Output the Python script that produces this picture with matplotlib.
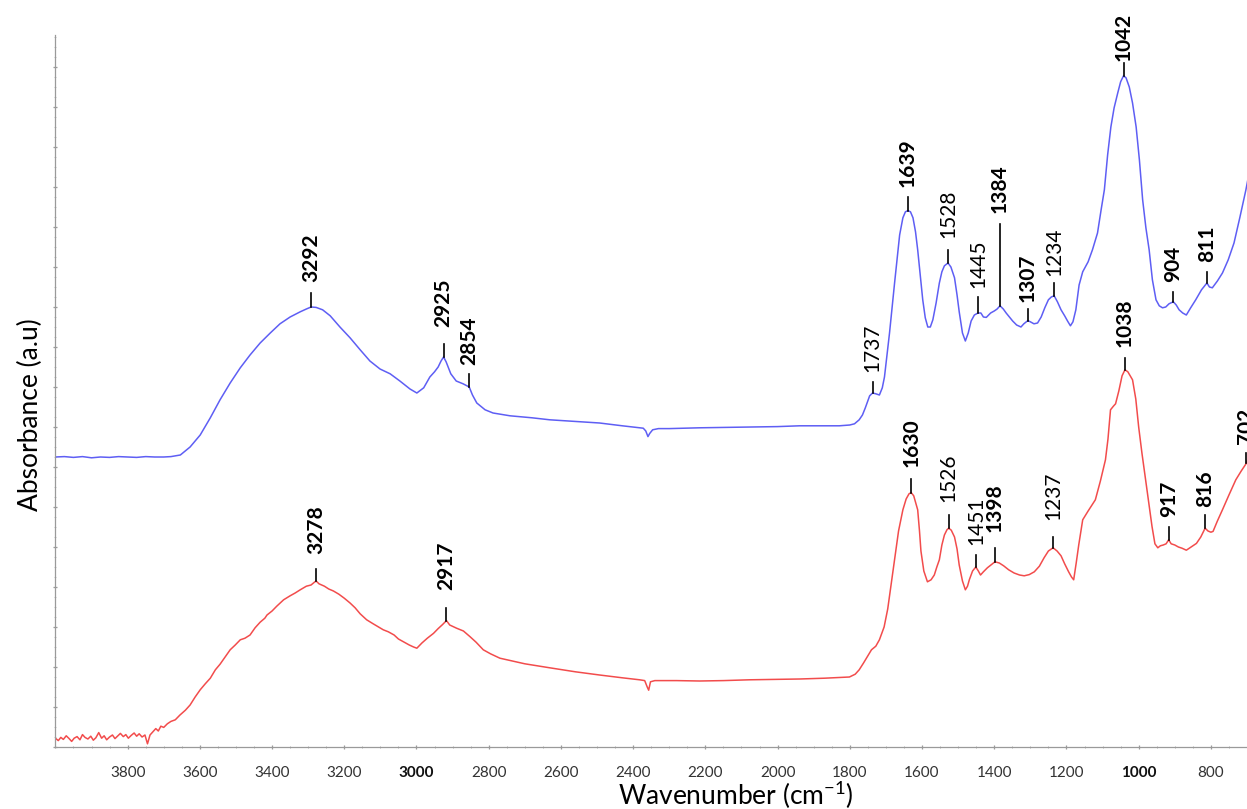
import numpy as np
import matplotlib
matplotlib.use("Agg")
import matplotlib.pyplot as plt
from matplotlib.ticker import MultipleLocator

plt.rcParams['font.family'] = ['Lato', 'DejaVu Sans']
plt.rcParams['mathtext.default'] = 'regular'

# ---- spectrum 1 (upper trace) ----
wn_upper = [4000, 3975, 3950, 3925, 3900, 3875, 3850, 3825, 3800, 3775, 3750, 3725,
            3700, 3680, 3654, 3627, 3599, 3571, 3544, 3516, 3488, 3461, 3433, 3405,
            3378, 3350, 3322, 3305, 3292, 3278, 3260, 3239, 3212, 3184, 3156, 3129,
            3101, 3073, 3046, 3018, 2999, 2980, 2963, 2950, 2940, 2932, 2925, 2918,
            2905, 2890, 2871, 2854, 2845, 2833, 2810, 2788, 2741, 2680, 2631, 2560,
            2493, 2430, 2382, 2372, 2365, 2359, 2354, 2346, 2330, 2300, 2216, 2150,
            2078, 2000, 1939, 1880, 1829, 1800, 1787, 1774, 1765, 1757, 1745, 1737,
            1728, 1718, 1710, 1704, 1697, 1690, 1676, 1662, 1653, 1646, 1639, 1632,
            1625, 1618, 1612, 1605, 1598, 1591, 1584, 1577, 1570, 1561, 1552, 1545,
            1538, 1528, 1520, 1510, 1503, 1497, 1488, 1480, 1472, 1464, 1455, 1445,
            1437, 1430, 1422, 1410, 1400, 1392, 1384, 1375, 1367, 1358, 1349, 1338,
            1326, 1318, 1307, 1300, 1290, 1280, 1270, 1260, 1250, 1242, 1234, 1225,
            1215, 1205, 1197, 1189, 1182, 1174, 1165, 1155, 1140, 1128, 1114, 1104,
            1095, 1086, 1077, 1068, 1058, 1050, 1042, 1035, 1026, 1017, 1007, 998,
            989, 980, 971, 962, 952, 943, 934, 925, 916, 904, 896, 888,
            878, 868, 856, 842, 826, 811, 804, 796, 782, 768, 752, 736,
            720, 703, 690]
abs_upper = [0.725, 0.726, 0.724, 0.726, 0.723, 0.725, 0.724, 0.726, 0.725, 0.724, 0.726, 0.725,
             0.725, 0.726, 0.730, 0.750, 0.780, 0.823, 0.868, 0.910, 0.948, 0.980, 1.010, 1.035,
             1.058, 1.075, 1.088, 1.095, 1.100, 1.099, 1.093, 1.078, 1.050, 1.023, 0.993, 0.965,
             0.945, 0.933, 0.915, 0.895, 0.885, 0.898, 0.925, 0.938, 0.950, 0.965, 0.975, 0.963,
             0.933, 0.915, 0.908, 0.900, 0.880, 0.860, 0.843, 0.835, 0.828, 0.823, 0.818, 0.814,
             0.810, 0.803, 0.798, 0.797, 0.790, 0.776, 0.784, 0.793, 0.796, 0.796, 0.798, 0.799,
             0.800, 0.801, 0.803, 0.803, 0.803, 0.805, 0.808, 0.818, 0.830, 0.848, 0.878, 0.885,
             0.883, 0.880, 0.898, 0.925, 0.980, 1.035, 1.160, 1.280, 1.323, 1.338, 1.341, 1.338,
             1.323, 1.288, 1.243, 1.180, 1.118, 1.073, 1.050, 1.050, 1.068, 1.110, 1.160, 1.188,
             1.203, 1.210, 1.200, 1.173, 1.130, 1.088, 1.035, 1.015, 1.035, 1.065, 1.080, 1.085,
             1.085, 1.075, 1.074, 1.085, 1.090, 1.095, 1.103, 1.095, 1.085, 1.075, 1.065, 1.055,
             1.050, 1.058, 1.066, 1.063, 1.058, 1.060, 1.075, 1.098, 1.118, 1.125, 1.128, 1.113,
             1.093, 1.078, 1.065, 1.053, 1.063, 1.093, 1.155, 1.188, 1.213, 1.243, 1.285, 1.343,
             1.393, 1.480, 1.550, 1.598, 1.635, 1.663, 1.678, 1.673, 1.650, 1.610, 1.550, 1.468,
             1.368, 1.298, 1.243, 1.168, 1.118, 1.103, 1.098, 1.100, 1.108, 1.113, 1.105, 1.093,
             1.085, 1.080, 1.098, 1.118, 1.143, 1.160, 1.150, 1.148, 1.165, 1.185, 1.218, 1.260,
             1.323, 1.393, 1.455]

# ---- spectrum 2 (lower trace) ----
wn_lower = [4000, 3992, 3985, 3978, 3970, 3962, 3955, 3948, 3940, 3932, 3925, 3918,
            3910, 3902, 3895, 3888, 3880, 3872, 3865, 3858, 3850, 3842, 3835, 3828,
            3820, 3812, 3805, 3798, 3790, 3782, 3775, 3768, 3760, 3752, 3745, 3738,
            3730, 3722, 3715, 3708, 3700, 3690, 3680, 3668, 3655, 3640, 3627, 3613,
            3599, 3585, 3571, 3557, 3544, 3530, 3516, 3502, 3488, 3475, 3461, 3447,
            3433, 3420, 3414, 3400, 3387, 3368, 3350, 3336, 3322, 3305, 3292, 3284,
            3278, 3270, 3255, 3243, 3230, 3215, 3200, 3184, 3170, 3156, 3138, 3120,
            3105, 3092, 3078, 3062, 3050, 3036, 3020, 3008, 2999, 2985, 2970, 2953,
            2940, 2928, 2917, 2908, 2889, 2870, 2852, 2835, 2815, 2795, 2769, 2700,
            2631, 2560, 2493, 2430, 2382, 2368, 2361, 2357, 2352, 2340, 2280, 2216,
            2150, 2078, 2000, 1939, 1870, 1801, 1785, 1774, 1762, 1750, 1740, 1728,
            1718, 1705, 1695, 1685, 1676, 1665, 1653, 1644, 1636, 1630, 1623, 1612,
            1607, 1603, 1595, 1585, 1575, 1566, 1559, 1552, 1545, 1538, 1531, 1526,
            1519, 1510, 1503, 1497, 1488, 1480, 1474, 1469, 1460, 1451, 1444, 1438,
            1430, 1419, 1408, 1398, 1386, 1374, 1360, 1345, 1330, 1317, 1303, 1289,
            1275, 1262, 1250, 1237, 1226, 1215, 1205, 1194, 1186, 1180, 1173, 1166,
            1160, 1155, 1140, 1120, 1106, 1092, 1085, 1078, 1070, 1064, 1055, 1046,
            1038, 1030, 1017, 1008, 1000, 991, 982, 972, 963, 955, 947, 940,
            932, 924, 917, 910, 900, 890, 880, 868, 855, 840, 828, 816,
            808, 800, 794, 782, 768, 750, 731, 716, 702, 690]
abs_lower = [0.022, 0.016, 0.024, 0.019, 0.028, 0.021, 0.014, 0.022, 0.026, 0.018, 0.031, 0.024,
             0.020, 0.027, 0.017, 0.023, 0.036, 0.022, 0.028, 0.018, 0.025, 0.030, 0.021, 0.027,
             0.034, 0.026, 0.031, 0.022, 0.029, 0.035, 0.027, 0.033, 0.025, 0.030, 0.008, 0.030,
             0.038, 0.046, 0.040, 0.052, 0.049, 0.058, 0.064, 0.068, 0.080, 0.092, 0.105, 0.125,
             0.143, 0.158, 0.172, 0.193, 0.207, 0.225, 0.243, 0.255, 0.268, 0.272, 0.280, 0.298,
             0.312, 0.322, 0.330, 0.340, 0.352, 0.368, 0.378, 0.385, 0.393, 0.402, 0.405, 0.411,
             0.415, 0.408, 0.402, 0.395, 0.390, 0.382, 0.372, 0.360, 0.348, 0.333, 0.318, 0.308,
             0.300, 0.293, 0.288, 0.280, 0.270, 0.263, 0.255, 0.250, 0.247, 0.260, 0.272, 0.284,
             0.296, 0.306, 0.316, 0.305, 0.297, 0.290, 0.276, 0.262, 0.243, 0.233, 0.222, 0.208,
             0.198, 0.188, 0.180, 0.173, 0.168, 0.166, 0.150, 0.142, 0.163, 0.166, 0.166, 0.165,
             0.166, 0.168, 0.169, 0.170, 0.172, 0.175, 0.182, 0.193, 0.210, 0.228, 0.243, 0.252,
             0.268, 0.300, 0.345, 0.410, 0.468, 0.540, 0.593, 0.620, 0.633, 0.636, 0.628, 0.593,
             0.540, 0.490, 0.440, 0.413, 0.418, 0.430, 0.450, 0.468, 0.505, 0.530, 0.543, 0.547,
             0.542, 0.525, 0.495, 0.455, 0.415, 0.393, 0.402, 0.418, 0.440, 0.450, 0.440, 0.430,
             0.438, 0.448, 0.456, 0.463, 0.460, 0.453, 0.443, 0.435, 0.430, 0.428, 0.431, 0.438,
             0.452, 0.473, 0.490, 0.498, 0.490, 0.478, 0.458, 0.438, 0.425, 0.418, 0.460, 0.505,
             0.540, 0.568, 0.590, 0.618, 0.665, 0.718, 0.770, 0.843, 0.852, 0.858, 0.890, 0.928,
             0.943, 0.938, 0.918, 0.870, 0.800, 0.735, 0.676, 0.610, 0.551, 0.508, 0.498, 0.503,
             0.505, 0.508, 0.518, 0.508, 0.505, 0.500, 0.497, 0.492, 0.500, 0.509, 0.525, 0.547,
             0.540, 0.537, 0.539, 0.565, 0.593, 0.630, 0.668, 0.690, 0.709, 0.740]

# ---- band assignments ----
peaks_upper = [3292, 2925, 2854, 1737, 1639, 1528, 1445, 1384, 1307, 1234, 1042, 904, 811]
bold_upper = [True, True, True, False, True, False, False, True, True, False, True, True, True]
peaks_lower = [3278, 2917, 1630, 1526, 1451, 1398, 1237, 1038, 917, 816, 702]
bold_lower = [True, True, True, False, False, True, False, True, True, True, True]

xtick_values = [3800, 3600, 3400, 3200, 3000, 2800, 2600, 2400, 2200, 2000, 1800, 1600,
                1400, 1200, 1000, 800]

# marker stem length / label offset (pixels above the trace)
stem_upper = [14, 13, 13, 11, 14, 13, 16, 82, 12, 13, 13, 10, 11]
gap_upper = [25, 30, 22, 21, 24, 25, 25, 93, 19, 20, 15, 20, 21]
stem_lower = [12, 13, 14, 13, 12, 14, 11, 12, 13, 13, 10]
gap_lower = [27, 31, 26, 26, 22, 30, 28, 23, 23, 21, 19]

fig = plt.figure(figsize=(12.47, 8.09), dpi=100)
ax = fig.add_axes([55.4 / 1247, (809 - 747) / 809, 1 - 55.4 / 1247, 712 / 809])

ax.plot(wn_upper, abs_upper, color='#5e5ef4', lw=1.1)
ax.plot(wn_lower, abs_lower, color='#f24c4c', lw=1.1)

ax.set_xlim(4000, 700)
ax.set_ylim(0, 1.78)

px = 1.0 / 400  # data units per pixel along y


def mark(peaks, bolds, stems, gaps, wn, ab):
    xs = np.asarray(wn)[::-1]
    ys = np.asarray(ab)[::-1]
    for p, b, s, g in zip(peaks, bolds, stems, gaps):
        y0 = np.interp(p, xs, ys)
        ax.plot([p, p], [y0, y0 + s * px], color='black', lw=1.2, clip_on=False)
        ax.text(p, y0 + g * px, str(p), rotation=90, ha='center', va='bottom',
                fontsize=15, fontweight='bold' if b else 'normal', color='black',
                clip_on=False)


mark(peaks_upper, bold_upper, stem_upper, gap_upper, wn_upper, abs_upper)
mark(peaks_lower, bold_lower, stem_lower, gap_lower, wn_lower, abs_lower)

# axes styling
for side in ('top', 'right'):
    ax.spines[side].set_visible(False)
for side in ('left', 'bottom'):
    ax.spines[side].set_color('#9a9a9a')
    ax.spines[side].set_linewidth(0.9)

ax.set_xticks(xtick_values)
ax.set_xticklabels([str(v) for v in xtick_values])
ax.xaxis.set_minor_locator(MultipleLocator(50))
ax.yaxis.set_major_locator(MultipleLocator(0.1))
ax.yaxis.set_minor_locator(MultipleLocator(0.025))
ax.set_yticklabels([])
ax.tick_params(axis='x', which='major', length=3, width=0.9, color='#9a9a9a',
               labelsize=11, labelcolor='#333333', pad=12, direction='inout')
ax.tick_params(axis='x', which='minor', length=2, width=0.7, color='#b0b0b0', direction='inout')
ax.tick_params(axis='y', which='major', length=3, width=0.9, color='#9a9a9a', direction='inout')
ax.tick_params(axis='y', which='minor', length=1.5, width=0.6, color='#b8b8b8', direction='inout')
for lbl in ax.get_xticklabels():
    if lbl.get_text() in ('3000', '1000'):
        lbl.set_fontweight('bold')
        lbl.set_color('#111111')

ax.set_xlabel(r'Wavenumber (cm$^{-1}$)', fontsize=19)
ax.xaxis.set_label_coords((736 - 55.4) / 1191.6, -(795 - 747) / 712)
ax.xaxis.label.set_verticalalignment('center')
ax.set_ylabel('Absorbance (a.u)', fontsize=19)
ax.yaxis.set_label_coords(-(55.4 - 30) / 1191.6, (747 - 415) / 712)
ax.yaxis.label.set_verticalalignment('center')

fig.savefig('out.png', dpi=100)
